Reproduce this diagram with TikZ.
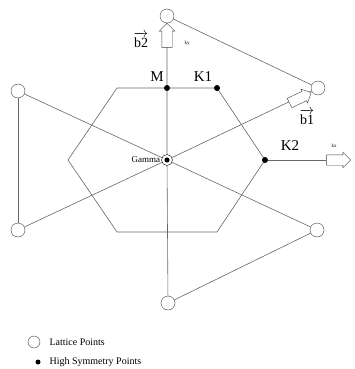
\documentclass[tikz,border=0pt]{standalone}
\usepackage{fontspec}
\setmainfont{Liberation Serif}
\usepackage{amsmath}
\usetikzlibrary{shapes.arrows}

\begin{document}
\begin{tikzpicture}[x=1pt,y=-1pt,
  lattice/.style={circle,draw=black!75,fill=white,minimum size=14pt,inner sep=0},
  hsp/.style={circle,fill=black,minimum size=6pt,inner sep=0},
  axis/.style={draw=black!60,line width=0.6pt},
  vecarrow/.style={single arrow,draw=black!75,fill=white,inner xsep=0,inner ysep=5pt,minimum width=15pt,minimum height=24pt,single arrow head extend=2.5pt},
  big/.style={font=\fontsize{15}{15}\selectfont},
  small/.style={font=\fontsize{5}{5}\selectfont}]
\useasboundingbox (0,0) rectangle (354,369);
% Brillouin zone
\draw[axis] (117,88) -- (217,88) -- (265,160) -- (217,232) -- (117,232) -- (68,160) -- cycle;
% lattice points
\node[lattice] (Ltop) at (167,16) {};
\node[lattice] (Lur) at (318,88) {};
\node[lattice] (Llr) at (317,230) {};
\node[lattice] (Lbot) at (168,303) {};
\node[lattice] (Lll) at (18,230) {};
\node[lattice] (Lul) at (18,91) {};
% high symmetry points
\node[circle,draw=black,fill=white,minimum size=11pt,inner sep=0] (Gamma) at (167,160) {};
\fill (Gamma) circle (2.6pt);
\node[hsp] (M) at (167,88) {};
\node[hsp] (K1) at (217,88) {};
\node[hsp] (K2) at (265,160) {};
% connectors
\draw[axis] (Ltop) -- (M) -- (Gamma) -- (Lbot);
\draw[axis] (Lul) -- (Gamma) -- (Llr);
\draw[axis] (Lll) -- (Gamma) -- (Lur);
\draw[axis] (Ltop) -- (Lur);
\draw[axis] (Lul) -- (Lll);
\draw[axis] (Llr) -- (Lbot);
% reciprocal vectors
\node[vecarrow,rotate=90] (b2) at (167,38) {};
\node[vecarrow,rotate=25.5] (b1) at (298,99) {};
\node[vecarrow] (kx) at (336,160) {};
\draw[axis] (K2) -- (kx);
% labels
\node[big] (Mlab) at (157,77) {M};
\node[big] (K1lab) at (203,77) {K1};
\node[big] (K2lab) at (290,146) {K2};
\node[anchor=east,inner sep=1pt,font=\fontsize{9}{9}\selectfont] (Glab) at (Gamma.west) {Gamma};
\node[font=\fontsize{14}{14}\selectfont] (b2lab) at (141,40) {$\overrightarrow{\text{b2}}$};
\node[font=\fontsize{14}{14}\selectfont] (b1lab) at (307,117) {$\overrightarrow{\text{b1}}$};
\node[small] (kylab) at (187,43) {ky};
\node[small] (kxlab) at (334,146) {kx};
% legend
\node[circle,draw=black!75,minimum size=12pt,inner sep=0] (legL) at (34,342) {};
\node[hsp,minimum size=5pt] (legH) at (38,362) {};
\node[anchor=west,font=\fontsize{10}{10}\selectfont] (legLtext) at (46,342) {Lattice Points};
\node[anchor=west,font=\fontsize{10}{10}\selectfont] (legHtext) at (46,362) {High Symmetry Points};
\end{tikzpicture}
\end{document}
